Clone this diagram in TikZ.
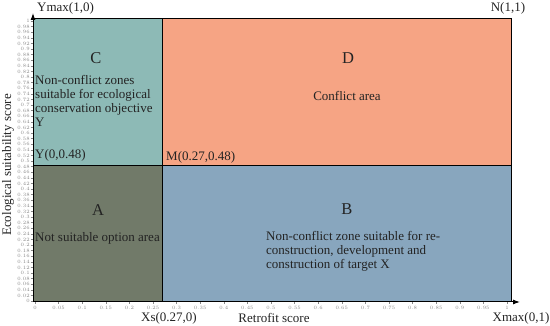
\documentclass[tikz,border=0pt]{standalone}
\usepackage{fontspec}
\setmainfont{Liberation Serif}
\usetikzlibrary{arrows.meta}
\definecolor{zoneteal}{RGB}{141,186,182}
\definecolor{zonesalmon}{RGB}{246,164,132}
\definecolor{zoneolive}{RGB}{113,122,105}
\definecolor{zoneblue}{RGB}{136,166,190}
\definecolor{tickgray}{RGB}{135,135,135}
\definecolor{inkgray}{RGB}{35,35,35}
\tikzset{
  zone/.style={draw=black,line width=1pt},
  letter/.style={font=\fontsize{16.5}{18}\selectfont,text=inkgray},
  desc/.style={font=\fontsize{13}{14}\selectfont,align=left,text=inkgray,inner sep=1pt},
  coordlabel/.style={font=\fontsize{13}{14}\selectfont,text=inkgray,inner sep=1pt},
  axislabel/.style={font=\fontsize{13}{14}\selectfont,text=inkgray},
  ticklabel/.style={font=\fontsize{4.2}{5}\selectfont,text=tickgray,inner sep=0.5pt},
  axis/.style={-{Latex[length=7pt,width=5pt]},line width=1pt}
}
\begin{document}
\begin{tikzpicture}[x=1pt,y=1pt]
\useasboundingbox (0,0) rectangle (550,326);
% quadrants
\coordinate (o) at (33,24);
\coordinate (m) at (162,160);
\coordinate (n) at (511,307);
\fill[zoneolive] (o) rectangle (m);
\fill[zoneblue] (162,24) rectangle (511,160);
\fill[zoneteal] (33,160) rectangle (162,307);
\fill[zonesalmon] (m) rectangle (n);
\draw[zone] (o) rectangle (n);
\draw[zone] (162,24) -- (162,307);
\draw[zone] (33,160) -- (511,160);
% ticks
\foreach \i in {0,...,20}{
  \pgfmathsetmacro\xv{35+23.6*\i}
  \pgfmathsetmacro\tv{\i/20}
  \draw[tickgray,line width=0.3pt] (\xv,24) -- (\xv,22);
  \node[ticklabel] at (\xv,18.5) {\pgfmathprintnumber[fixed,precision=2]{\tv}};
}
\foreach \i in {0,...,50}{
  \pgfmathsetmacro\yv{25+5.6*\i}
  \pgfmathsetmacro\tv{\i/50}
  \draw[tickgray,line width=0.3pt] (30.5,\yv) -- (33,\yv);
  \node[ticklabel,anchor=east] at (30.5,\yv) {\pgfmathprintnumber[fixed,precision=2]{\tv}};
}
% axes
\coordinate (xend) at (520,24);
\coordinate (yend) at (33,313);
\draw[axis] (o) -- (xend);
\draw[axis] (o) -- (yend);
\node[coordlabel,anchor=west] (ymax) at (36,318) {Ymax(1,0)};
\node[coordlabel] (ntop) at (508,318) {N(1,1)};
\node[axislabel] (xs) at (169,8) {Xs(0.27,0)};
\node[axislabel] (xlabel) at (274,8) {Retrofit score};
\node[axislabel] (xmax) at (521,8) {Xmax(0,1)};
\node[axislabel,rotate=90] (ylabel) at (8,161) {Ecological suitability score};
% zone texts
\node[letter] (c) at (96,268) {C};
\node[desc,anchor=west] (ctext) at (34,225) {Non-conflict zones\\suitable for ecological\\conservation objective\\Y};
\node[coordlabel,anchor=west] (ypoint) at (34,171) {Y(0,0.48)};
\node[letter] (d) at (348,268) {D};
\node[desc] (dtext) at (347,230) {Conflict area};
\node[coordlabel,anchor=west] (mpoint) at (165,169) {M(0.27,0.48)};
\node[letter] (a) at (98,116) {A};
\node[desc] (atext) at (97.5,88) {Not suitable option area};
\node[letter] (b) at (347,117) {B};
\node[desc,anchor=west] (btext) at (265,75) {Non-conflict zone suitable for re-\\construction, development and\\construction of target X};
\end{tikzpicture}
\end{document}
